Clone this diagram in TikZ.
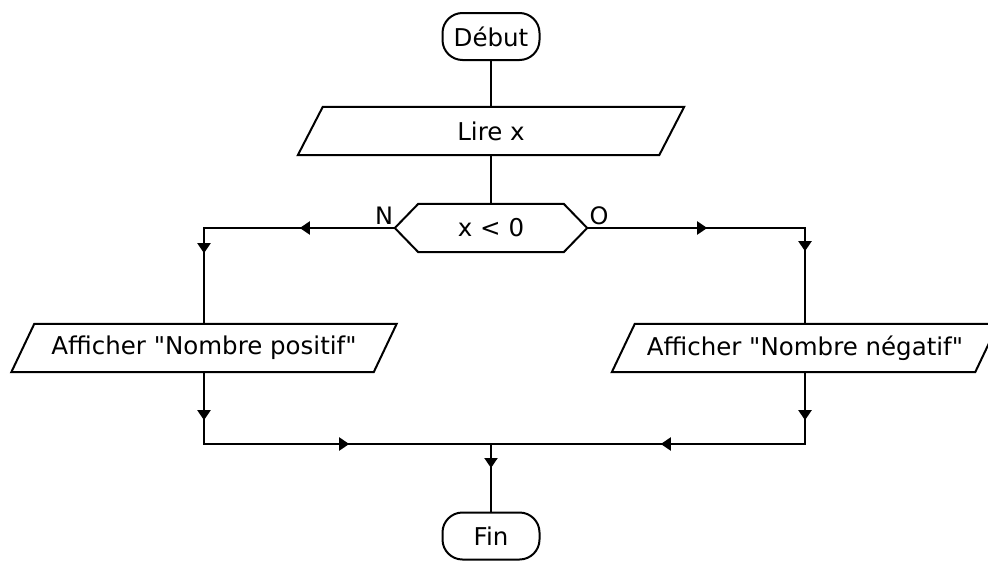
\documentclass[tikz,border=0pt]{standalone}
\usepackage{fontspec}
\setmainfont{DejaVu Sans}[Ligatures=TeXOff]
\usetikzlibrary{arrows.meta,decorations.markings,calc}

\tikzset{
  tri/.tip={Triangle[length=10pt,width=13pt]},
  every node/.style={font=\fontsize{24.5}{29}\selectfont, inner sep=0pt},
  line/.style={line width=2pt, draw=black},
  term/.style={line, rounded corners=20pt, minimum width=97pt, minimum height=47pt},
  slot/.style={minimum width=#1, minimum height=48pt},
  flag/.style={font=\fontsize{24}{28}\selectfont},
  onearrow/.style={decoration={markings, mark=at position #1 with {\arrow{tri}}}, postaction=decorate},
  twoarrows/.style 2 args={decoration={markings,
      mark=at position #1 with {\arrow{tri}},
      mark=at position #2 with {\arrow{tri}}}, postaction=decorate}
}

% parallelogram outline around a node: #1 node name, #2 half of the slant
\newcommand\slantbox[2]{%
  \draw[line] ([xshift=#2]#1.north west) -- ([xshift=#2]#1.north east)
    -- ([xshift=-#2]#1.south east) -- ([xshift=-#2]#1.south west) -- cycle;}

\begin{document}
\begin{tikzpicture}[x=1pt,y=-1pt]
  \fill[white] (0,0) rectangle (988,560);
  \useasboundingbox (0,0) rectangle (988,560);

  % terminals
  \node[term] (debut) at (491,36.5) {Début};
  \node[term] (fin) at (491,536) {Fin};

  % input
  \node[slot=361pt] (lire) at (491,131) {Lire x};
  \slantbox{lire}{12.5pt}

  % decision
  \node[slot=192pt] (dec) at (491,228) {x < 0};
  \draw[line] (dec.west) -- ([xshift=23.5pt]dec.north west)
    -- ([xshift=-23.5pt]dec.north east) -- (dec.east)
    -- ([xshift=-23.5pt]dec.south east) -- ([xshift=23.5pt]dec.south west) -- cycle;
  \node[flag] (lblN) at (384,216) {N};
  \node[flag] (lblO) at (599,216) {O};

  % outputs
  \node[slot=362pt] (pos) at (204,348) {Afficher "Nombre positif"};
  \slantbox{pos}{11.5pt}
  \node[slot=363pt] (neg) at (805,348) {Afficher "Nombre négatif"};
  \slantbox{neg}{11.5pt}

  % corners and junction
  \coordinate (cl) at (204,228);
  \coordinate (cr) at (805,228);
  \coordinate (bl) at (204,444);
  \coordinate (br) at (805,444);
  \coordinate (jn) at (491,444);

  % connectors
  \draw[line] (debut.south) -- (lire.north);
  \draw[line] (lire.south) -- (dec.north);
  \draw[line, twoarrows={95pt}{216pt}] (dec.west) -- (cl) -- (pos.north);
  \draw[line, twoarrows={120pt}{241pt}] (dec.east) -- (cr) -- (neg.north);
  \draw[line, twoarrows={48pt}{217pt}] (pos.south) -- (bl) -- (jn);
  \draw[line, twoarrows={48pt}{216pt}] (neg.south) -- (br) -- (jn);
  \draw[line, onearrow=24pt] (jn) -- (fin.north);
\end{tikzpicture}
\end{document}
